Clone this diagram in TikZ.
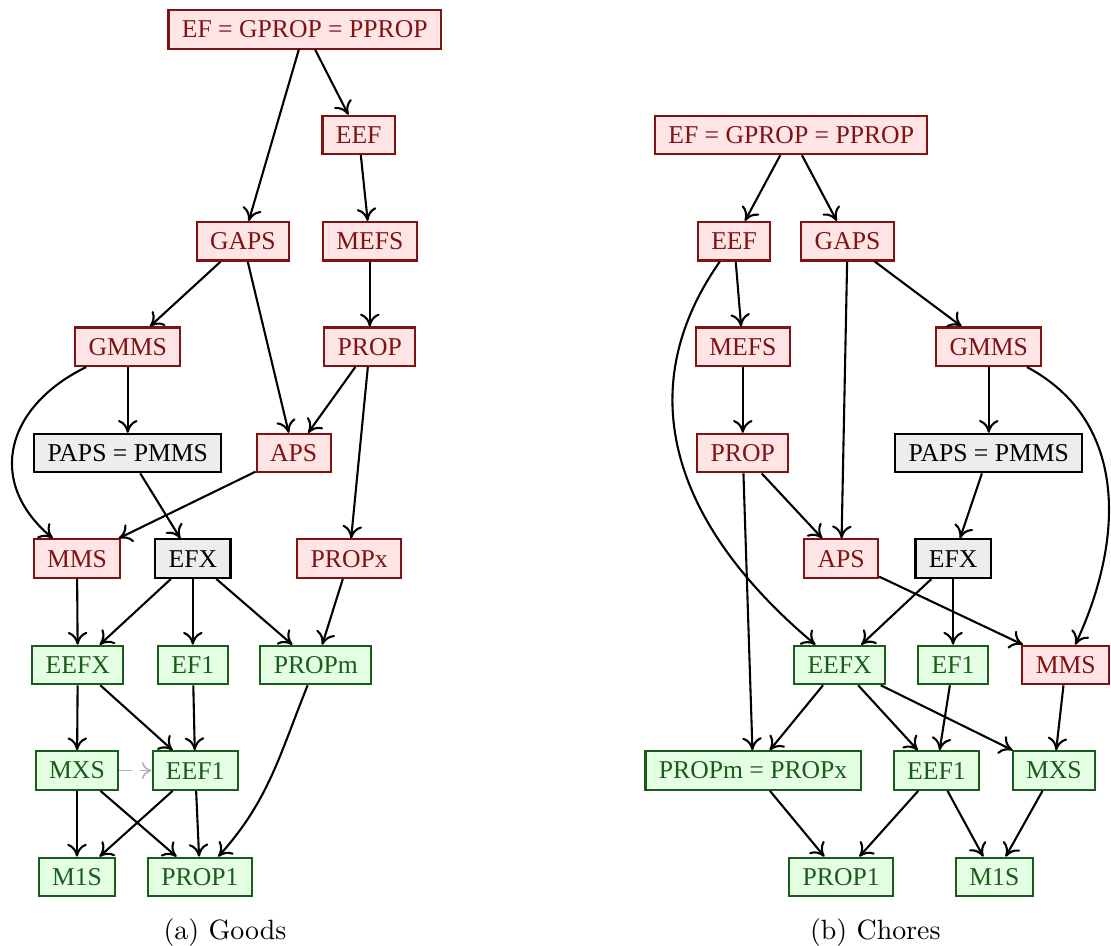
\documentclass[tikz,border=0pt]{standalone}
\usepackage{fontspec}
\newfontfamily\boxfont{Liberation Serif}
\usetikzlibrary{arrows.meta}
\definecolor{boxred}{rgb}{0.5,0.07,0.07}
\definecolor{boxgreen}{rgb}{0.1,0.36,0.1}
\tikzset{
	nodebox/.style={draw, line width=0.75pt, inner xsep=4.8pt, minimum height=13.8pt, font=\boxfont\fontsize{9.2}{11}\selectfont},
	redbox/.style={nodebox, draw=boxred, fill=red!10, text=boxred},
	greenbox/.style={nodebox, draw=boxgreen, fill=green!10, text=boxgreen},
	graybox/.style={nodebox, draw=black, fill=black!7},
	arr/.style={-{To[length=4.6pt,width=7pt]}, line width=0.75pt},
}

\begin{document}
\begin{tikzpicture}
				\useasboundingbox (0,0) rectangle (14.0,11.92);
				
				\node[redbox] (efA) at (3.84,11.55) {EF = GPROP = PPROP};
				\node[redbox] (eefA) at (4.52,10.22) {EEF};
				\node[redbox] (gapsA) at (3.06,8.88) {GAPS};
				\node[redbox] (mefsA) at (4.66,8.88) {MEFS};
				\node[redbox] (gmmsA) at (1.61,7.55) {GMMS};
				\node[redbox] (propA) at (4.66,7.55) {PROP};
				\node[graybox] (papsA) at (1.61,6.21) {PAPS = PMMS};
				\node[redbox] (apsA) at (3.70,6.21) {APS};
				\node[redbox] (mmsA) at (0.97,4.88) {MMS};
				\node[graybox] (efxA) at (2.43,4.88) {EFX};
				\node[redbox] (propxA) at (4.40,4.88) {PROPx};
				\node[greenbox] (eefxA) at (0.98,3.54) {EEFX};
				\node[greenbox] (efoneA) at (2.43,3.54) {EF1};
				\node[greenbox] (propmA) at (3.98,3.54) {PROPm};
				\node[greenbox] (mxsA) at (0.97,2.21) {MXS};
				\node[greenbox] (eefoneA) at (2.46,2.21) {EEF1};
				\node[greenbox] (m1sA) at (0.97,0.87) {M1S};
				\node[greenbox] (proponeA) at (2.52,0.87) {PROP1};
				\node (capA) at (2.835,0.164) {(a) Goods};
				
				\draw[arr] (efA) -- (gapsA);
				\draw[arr] (efA) -- (eefA);
				\draw[arr] (eefA) -- (mefsA);
				\draw[arr] (mefsA) -- (propA);
				\draw[arr] (gapsA) -- (gmmsA);
				\draw[arr] (gapsA) -- (apsA);
				\draw[arr] (propA) -- (apsA);
				\draw[arr] (propA) -- (propxA);
				\draw[arr] (gmmsA) -- (papsA);
				\draw[arr] (gmmsA) to[out=206, in=140, looseness=1.3] (mmsA);
				\draw[arr] (papsA) -- (efxA);
				\draw[arr] (apsA) -- (mmsA);
				\draw[arr] (mmsA) -- (eefxA);
				\draw[arr] (efxA) -- (eefxA);
				\draw[arr] (efxA) -- (efoneA);
				\draw[arr] (efxA) -- (propmA);
				\draw[arr] (propxA) -- (propmA);
				\draw[arr] (eefxA) -- (mxsA);
				\draw[arr] (eefxA) -- (eefoneA);
				\draw[arr] (efoneA) -- (eefoneA);
				\draw[arr] (propmA) to[out=-112, in=48] (proponeA);
				\draw[-{To[length=3.5pt,width=6pt]}, line width=0.6pt, black!30, dash pattern=on 4.5pt off 3pt] (mxsA) -- (eefoneA);
				\draw[arr] (mxsA) -- (m1sA);
				\draw[arr] (mxsA) -- (proponeA);
				\draw[arr] (eefoneA) -- (m1sA);
				\draw[arr] (eefoneA) -- (proponeA);
				
				\node[redbox] (efB) at (9.97,10.22) {EF = GPROP = PPROP};
				\node[redbox] (eefB) at (9.25,8.88) {EEF};
				\node[redbox] (gapsB) at (10.68,8.88) {GAPS};
				\node[redbox] (mefsB) at (9.36,7.55) {MEFS};
				\node[redbox] (gmmsB) at (12.46,7.55) {GMMS};
				\node[redbox] (propB) at (9.36,6.21) {PROP};
				\node[graybox] (papsB) at (12.46,6.21) {PAPS = PMMS};
				\node[redbox] (apsB) at (10.60,4.88) {APS};
				\node[graybox] (efxB) at (12.01,4.88) {EFX};
				\node[greenbox] (eefxB) at (10.58,3.54) {EEFX};
				\node[greenbox] (efoneB) at (12.01,3.54) {EF1};
				\node[redbox] (mmsB) at (13.43,3.54) {MMS};
				\node[greenbox] (propmB) at (9.49,2.21) {PROPm = PROPx};
				\node[greenbox] (eefoneB) at (11.80,2.21) {EEF1};
				\node[greenbox] (mxsB) at (13.28,2.21) {MXS};
				\node[greenbox] (proponeB) at (10.60,0.87) {PROP1};
				\node[greenbox] (m1sB) at (12.53,0.87) {M1S};
				\node (capB) at (11.03,0.164) {(b) Chores};
				
				\draw[arr] (efB) -- (eefB);
				\draw[arr] (efB) -- (gapsB);
				\draw[arr] (eefB) -- (mefsB);
				\draw[arr] (eefB) to[out=235, in=140, looseness=1.1] (eefxB);
				\draw[arr] (gapsB) -- (apsB);
				\draw[arr] (gapsB) -- (gmmsB);
				\draw[arr] (mefsB) -- (propB);
				\draw[arr] (propB) -- (apsB);
				\draw[arr] (propB) -- (propmB);
				\draw[arr] (gmmsB) -- (papsB);
				\draw[arr] (gmmsB) to[out=-28, in=65, looseness=1.05] (mmsB);
				\draw[arr] (papsB) -- (efxB);
				\draw[arr] (apsB) -- (mmsB);
				\draw[arr] (efxB) -- (eefxB);
				\draw[arr] (efxB) -- (efoneB);
				\draw[arr] (eefxB) -- (propmB);
				\draw[arr] (eefxB) -- (eefoneB);
				\draw[arr] (eefxB) -- (mxsB);
				\draw[arr] (efoneB) -- (eefoneB);
				\draw[arr] (mmsB) -- (mxsB);
				\draw[arr] (propmB) -- (proponeB);
				\draw[arr] (eefoneB) -- (proponeB);
				\draw[arr] (eefoneB) -- (m1sB);
				\draw[arr] (mxsB) -- (m1sB);
			\end{tikzpicture}
\end{document}
